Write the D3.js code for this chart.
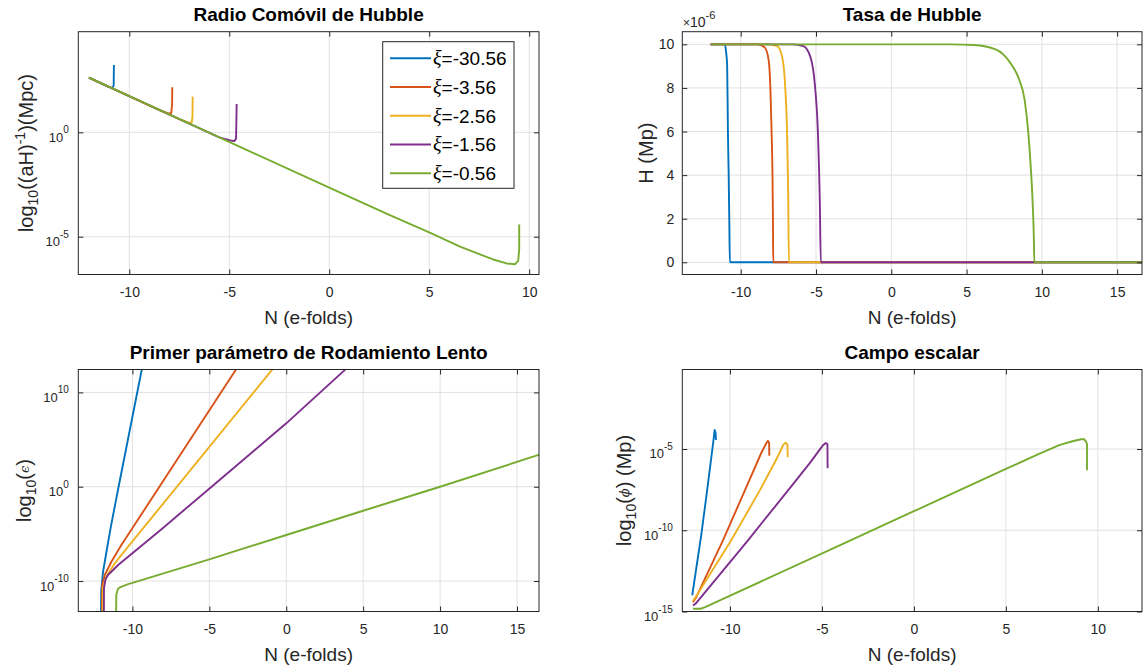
<!DOCTYPE html>
<html><head><meta charset="utf-8">
<script src="https://cdn.jsdelivr.net/npm/d3@7"></script>
<style>body{margin:0;background:#fff} svg{display:block}</style>
</head><body><svg id="chart" width="1145" height="672"></svg>
<script>
// ---------- labels / ticks ----------
const xiLabels = ["-30.56", "-3.56", "-2.56", "-1.56", "-0.56"];
const xTicksShort = [-10, -5, 0, 5, 10];
const xTicksLong = [-10, -5, 0, 5, 10, 15];
const hTicks = [0, 2e-6, 4e-6, 6e-6, 8e-6, 10e-6];
const radioTicks = [1e-5, 1e0];
const epsTicks = [1e-10, 1e0, 1e10];
const phiTicks = [1e-15, 1e-10, 1e-5];

// ---------- Radio comóvil de Hubble: [N, (aH)^-1 (Mpc)] ----------
const radioXi30 = [[-12.02,4.17e2],[-11.1,1.58e2],[-10.85,1.32e2],[-10.78,1.78e2],[-10.77,1.66e3]];
const radioXi3  = [[-12.02,4.17e2],[-8.4,1.07e1],[-8.0,7.94],[-7.9,8.51],[-7.86,2.0e1],[-7.85,1.45e2]];
const radioXi2  = [[-12.02,4.17e2],[-7.4,3.89],[-7.0,2.82],[-6.88,2.95],[-6.84,5.62],[-6.83,5.13e1]];
const radioXi1  = [[-12.02,4.17e2],[-5.5,5.75e-1],[-5.0,4.17e-1],[-4.75,3.8e-1],[-4.66,5.01e-1],[-4.63,2.29e1]];
const radioXi0  = [[-12.02,4.17e2],[-8,7.24],[-4,1.26e-1],[0,2.24e-3],[3,1.1e-4],[5,1.62e-5],[6.54,3.39e-6],[7.54,1.41e-6],[8.2,8.13e-7],[8.87,5.25e-7],[9.29,4.79e-7],[9.45,7.08e-7],[9.5,2.51e-6],[9.5,3.89e-5]];

// ---------- Tasa de Hubble: [N, H (Mp)] ----------
const hubbleXi30 = [[-12,1e-5],[-11.05,1e-5],[-10.98,9.7e-6],[-10.9,9.0e-6],[-10.85,6.0e-6],[-10.8,4.0e-6],[-10.76,2.0e-6],[-10.72,0],[16.7,0]];
const hubbleXi3  = [[-12,1e-5],[-8.9,1e-5],[-8.4,9.85e-6],[-8.15,9.3e-6],[-8.03,8.0e-6],[-7.95,6.0e-6],[-7.89,4.0e-6],[-7.86,2.0e-6],[-7.84,0],[16.7,0]];
const hubbleXi2  = [[-12,1e-5],[-8.2,1e-5],[-7.57,9.92e-6],[-7.24,9.4e-6],[-7.05,8.1e-6],[-6.92,5.9e-6],[-6.85,3.3e-6],[-6.8,0],[16.7,0]];
const hubbleXi1  = [[-12,1e-5],[-6.56,1e-5],[-5.84,9.92e-6],[-5.36,9.4e-6],[-5.07,8.1e-6],[-4.87,5.9e-6],[-4.75,2.9e-6],[-4.68,0],[16.7,0]];
const hubbleXi0  = [[-11.97,1e-5],[3.92,1e-5],[5.48,9.97e-6],[6.93,9.77e-6],[7.89,9.16e-6],[8.49,8.39e-6],[8.85,7.47e-6],[9.1,5.94e-6],[9.26,4.4e-6],[9.38,2.86e-6],[9.46,1.33e-6],[9.5,0],[16.7,0]];

// ---------- Primer parámetro de rodamiento lento: [N, epsilon] ----------
const epsXi30 = [[-12.05,1e-14],[-12.03,1e-11],[-11.97,1e-10],[-11.91,1e-9],[-11.7,1e-7],[-11.4,6.31e-5],[-10.9,1],[-9.3,1.58e13]];
const epsXi3  = [[-11.99,1e-14],[-11.97,3.16e-11],[-11.8,4.37e-10],[-11.37,1.12e-8],[-10.72,6.61e-7],[-3.0,1.26e13]];
const epsXi2  = [[-11.94,1e-14],[-11.92,2e-11],[-11.7,2.88e-10],[-11.15,7.59e-9],[-10.28,4.37e-7],[-0.7,7.08e12]];
const epsXi1  = [[-11.86,1e-14],[-11.85,1.78e-11],[-11.75,1.58e-10],[-11.59,4.37e-10],[-10.93,5.01e-9],[-8.11,3.16e-5],[-4.93,7.94e-1],[0,5.25e6],[3.85,2.75e12],[4.3,1.26e13]];
const epsXi0  = [[-11.06,1e-14],[-11.05,3.31e-12],[-10.95,1.41e-11],[-10.82,2.14e-11],[-10.28,4.79e-11],[-10,6.31e-11],[-5,2e-8],[0,7.59e-6],[5,2.82e-3],[10,1],[16.6,2.95e3]];

// ---------- Campo escalar: [N, phi (Mp)] ----------
const phiXi30 = [[-12.05,1e-14],[-11.56,5.01e-11],[-11.27,1.58e-8],[-10.91,2.51e-5],[-10.83,1.48e-4],[-10.78,1e-4],[-10.76,3.55e-5]];
const phiXi3  = [[-12.01,3.72e-15],[-11.83,7.59e-15],[-10.38,2.4e-11],[-9.18,2.95e-8],[-8.28,6.31e-6],[-8.0,2.51e-5],[-7.93,3.16e-5],[-7.87,2.4e-5],[-7.86,3.89e-6]];
const phiXi2  = [[-12.01,4.47e-15],[-11.8,1e-14],[-9.93,2.4e-11],[-8.37,2.95e-8],[-7.46,2.51e-6],[-7.1,1.78e-5],[-6.97,2.45e-5],[-6.87,1.78e-5],[-6.86,3.09e-6]];
const phiXi1  = [[-12.01,2.34e-15],[-11.85,3.16e-15],[-9.02,2.4e-11],[-6.83,2.95e-8],[-5.65,1.41e-6],[-4.93,1.78e-5],[-4.79,2.34e-5],[-4.7,2.0e-5],[-4.69,6.46e-7]];
const phiXi0  = [[-12.01,1.48e-15],[-11.6,1.48e-15],[-11.38,1.78e-15],[-3.86,1.45e-11],[0,1.48e-9],[5,5.89e-7],[6.86,5.37e-6],[7.94,1.78e-5],[8.67,3.09e-5],[9.1,3.98e-5],[9.25,4.07e-5],[9.36,2.82e-5],[9.41,2.0e-5],[9.41,5.01e-7]];

// ---------- style ----------
const colors = ["#0072BD", "#D95319", "#EDB120", "#7E2F8E", "#77AC30"];
const FONT = '"Liberation Sans", Arial, Helvetica, sans-serif';
const INK = "#262626";
const svg = d3.select("#chart");
const defs = svg.append("defs");

function supText(sel, base, exp, fb, fs, rise) {
  sel.text(null);
  sel.append("tspan").text(base).attr("font-size", fb);
  sel.append("tspan").text(exp).attr("font-size", fs).attr("dy", -rise);
}

function drawPanel(o) {
  const g = svg.append("g");
  const x = d3.scaleLinear().domain(o.xDomain).range([o.L, o.R]);
  const y = (o.log ? d3.scaleLog() : d3.scaleLinear()).domain(o.yDomain).range([o.B, o.T]);

  defs.append("clipPath").attr("id", "clip-" + o.id).append("rect")
    .attr("x", o.L).attr("y", o.T).attr("width", o.R - o.L).attr("height", o.B - o.T);

  // grid
  g.append("g").selectAll("line").data(o.xTicks).join("line")
    .attr("x1", d => x(d)).attr("x2", d => x(d)).attr("y1", o.T).attr("y2", o.B)
    .attr("stroke", "#e1e1e1").attr("stroke-width", 1);
  g.append("g").selectAll("line").data(o.yTicks).join("line")
    .attr("y1", d => y(d)).attr("y2", d => y(d)).attr("x1", o.L).attr("x2", o.R)
    .attr("stroke", "#e1e1e1").attr("stroke-width", 1);

  // series
  const line = d3.line().x(d => x(d[0])).y(d => y(d[1])).curve(o.curve || d3.curveLinear);
  g.append("g").attr("clip-path", "url(#clip-" + o.id + ")")
    .selectAll("path").data(o.series).join("path")
    .attr("d", line).attr("fill", "none")
    .attr("stroke", (d, i) => colors[i]).attr("stroke-width", 1.9)
    .attr("stroke-linejoin", "round");

  // axes
  const styleAxis = a => {
    a.attr("font-family", FONT).attr("font-size", 14);
    a.select(".domain").remove();
    a.selectAll(".tick line").attr("stroke", INK);
    a.selectAll(".tick text").attr("fill", INK);
  };
  const bx = g.append("g").attr("transform", `translate(0,${o.B})`)
    .call(d3.axisBottom(x).tickValues(o.xTicks).tickSize(-5).tickPadding(12.5).tickFormat(d => d));
  styleAxis(bx);
  const tx = g.append("g").attr("transform", `translate(0,${o.T})`)
    .call(d3.axisTop(x).tickValues(o.xTicks).tickSize(-5).tickFormat(""));
  styleAxis(tx);
  const ly = g.append("g").attr("transform", `translate(${o.L},0)`)
    .call(d3.axisLeft(y).tickValues(o.yTicks).tickSize(-5).tickPadding(o.log ? 9.5 : 8)
      .tickFormat(o.log ? (() => "") : (d => Math.round(d * 1e6))));
  styleAxis(ly);
  if (o.log) {
    ly.selectAll(".tick text").attr("dy", 9).each(function (d) {
      supText(d3.select(this), "10", String(Math.round(Math.log10(d))), 13, 10, 8.5);
    });
  }
  const ry = g.append("g").attr("transform", `translate(${o.R},0)`)
    .call(d3.axisRight(y).tickValues(o.yTicks).tickSize(-5).tickFormat(""));
  styleAxis(ry);

  // box
  g.append("rect").attr("x", o.L).attr("y", o.T).attr("width", o.R - o.L).attr("height", o.B - o.T)
    .attr("fill", "none").attr("stroke", INK).attr("stroke-width", 1);

  // title
  g.append("text").attr("x", (o.L + o.R) / 2).attr("y", o.titleY).attr("text-anchor", "middle")
    .attr("font-family", FONT).attr("font-size", 19).attr("font-weight", "bold").attr("fill", "#000")
    .text(o.title);
  // x label
  g.append("text").attr("x", (o.L + o.R) / 2).attr("y", o.B + 49).attr("text-anchor", "middle")
    .attr("font-family", FONT).attr("font-size", 19).attr("fill", INK).text("N (e-folds)");
  // y label
  const yl = g.append("text").attr("transform", `translate(${o.yLabelX},${(o.T + o.B) / 2}) rotate(-90)`)
    .attr("text-anchor", "middle").attr("font-family", FONT).attr("font-size", 20).attr("fill", INK);
  o.yLabel.forEach(p => {
    const t = yl.append("tspan").text(p.t);
    if (p.fs) t.attr("font-size", p.fs);
    if (p.dy) t.attr("dy", p.dy);
    if (p.ff) t.attr("font-family", p.ff);
    if (p.fst) t.attr("font-style", p.fst);
  });
  return { x, y, g };
}

// Panel 1
const p1 = drawPanel({
  id: "p1", L: 78.3, R: 539, T: 31.7, B: 274.5,
  xDomain: [-12.55, 10.49], yDomain: [1.55e-7, 6.61e4], log: true,
  xTicks: xTicksShort, yTicks: radioTicks,
  series: [radioXi30, radioXi3, radioXi2, radioXi1, radioXi0],
  title: "Radio Comóvil de Hubble", titleY: 20.7, yLabelX: 33,
  yLabel: [{t: "log"}, {t: "10", fs: 14, dy: 5}, {t: "((aH)", dy: -5}, {t: "-1", fs: 14, dy: -8}, {t: ")(Mpc)", dy: 8}]
});

// Panel 2
const p2 = drawPanel({
  id: "p2", L: 682.3, R: 1142, T: 31.7, B: 274.5,
  xDomain: [-13.88, 16.65], yDomain: [-0.56e-6, 10.58e-6], log: false,
  xTicks: xTicksLong, yTicks: hTicks, curve: d3.curveMonotoneX,
  series: [hubbleXi30, hubbleXi3, hubbleXi2, hubbleXi1, hubbleXi0],
  title: "Tasa de Hubble", titleY: 20.7, yLabelX: 653,
  yLabel: [{t: "H (Mp)"}]
});
// exponent label
const ex = p2.g.append("text").attr("x", 683).attr("y", 26.5).attr("font-family", FONT).attr("fill", INK);
ex.append("tspan").text("×").attr("font-size", 12);
ex.append("tspan").text("10").attr("font-size", 14);
ex.append("tspan").text("-6").attr("font-size", 11).attr("dy", -8);

// Panel 3
drawPanel({
  id: "p3", L: 78.3, R: 539, T: 369.5, B: 611.5,
  xDomain: [-13.52, 16.43], yDomain: [5.89e-14, 2.69e12], log: true,
  xTicks: xTicksLong, yTicks: epsTicks,
  series: [epsXi30, epsXi3, epsXi2, epsXi1, epsXi0],
  title: "Primer parámetro de Rodamiento Lento", titleY: 358.5, yLabelX: 31,
  yLabel: [{t: "log"}, {t: "10", fs: 14, dy: 5}, {t: "(", dy: -5}, {t: "ϵ", fs: 13, ff: '"DejaVu Serif", serif', fst: "italic", dy: -2}, {t: ")", dy: 2}]
});

// Panel 4
drawPanel({
  id: "p4", L: 682.3, R: 1142, T: 369.5, B: 611.5,
  xDomain: [-12.59, 12.4], yDomain: [1e-15, 0.78], log: true,
  xTicks: xTicksShort, yTicks: phiTicks,
  series: [phiXi30, phiXi3, phiXi2, phiXi1, phiXi0],
  title: "Campo escalar", titleY: 358.5, yLabelX: 631,
  yLabel: [{t: "log"}, {t: "10", fs: 14, dy: 5}, {t: "(", dy: -5}, {t: "ϕ", fs: 13, ff: '"DejaVu Serif", serif', fst: "italic", dy: -2}, {t: ") (Mp)", dy: 2}]
});

// Legend (panel 1)
const lg = p1.g.append("g");
lg.append("rect").attr("x", 382.7).attr("y", 41.7).attr("width", 131.3).attr("height", 146.6)
  .attr("fill", "#fff").attr("stroke", INK).attr("stroke-width", 1);
xiLabels.forEach((lab, i) => {
  const yy = 58.3 + i * 28.75;
  lg.append("line").attr("x1", 390).attr("x2", 431).attr("y1", yy).attr("y2", yy)
    .attr("stroke", colors[i]).attr("stroke-width", 1.9);
  const t = lg.append("text").attr("x", 433).attr("y", yy + 6.8)
    .attr("font-family", FONT).attr("font-size", 19).attr("fill", "#000");
  t.append("tspan").text("ξ").attr("font-family", '"Liberation Serif", serif').attr("font-style", "italic").attr("font-size", 20);
  t.append("tspan").text("=" + lab);
});
</script>
</body></html>
